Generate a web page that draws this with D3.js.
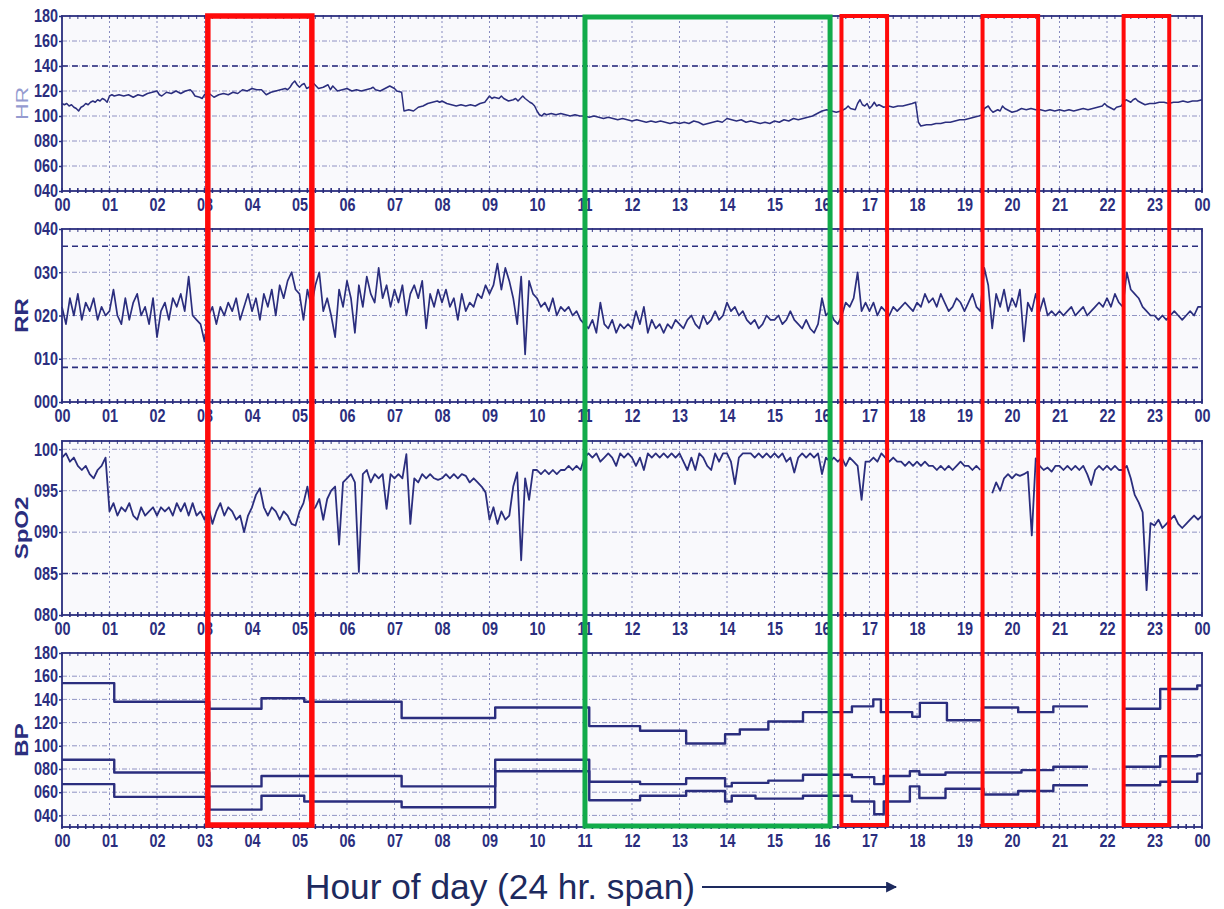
<!DOCTYPE html>
<html>
<head>
<meta charset="utf-8">
<script src="https://cdn.jsdelivr.net/npm/d3@7"></script>
<style>
  body { margin: 0; background: #ffffff; }
  svg { display: block; }
</style>
</head>
<body>
<svg id="chart" width="1224" height="909"></svg>
<script>
// ---- Data -----------------------------------------------------------------

const hourLabels = ["00","01","02","03","04","05","06","07","08","09","10","11",
                    "12","13","14","15","16","17","18","19","20","21","22","23","00"];

const hrTicks   = [40, 60, 80, 100, 120, 140, 160, 180];
const rrTicks   = [0, 10, 20, 30, 40];
const spo2Ticks = [80, 85, 90, 95, 100];
const bpTicks   = [40, 60, 80, 100, 120, 140, 160, 180];

// Heart rate: [hour, beats/min]
const hrPoints = [
  [0,110],[0.05,109],[0.1,110],[0.15,108],[0.2,109],[0.25,107],[0.3,106],[0.35,104],[0.4,107],
  [0.45,108],[0.5,110],[0.55,109],[0.6,111],[0.65,112],[0.7,111],[0.75,113],[0.8,112],[0.85,114],
  [0.9,113],[0.95,111],[1.0,116],[1.05,117],[1.1,116],[1.2,117],[1.3,116],[1.4,117],[1.5,115],
  [1.6,117],[1.7,116],[1.8,118],[1.9,119],[2.0,120],[2.05,117],[2.1,116],[2.2,119],[2.3,118],
  [2.4,120],[2.5,118],[2.6,120],[2.7,121],[2.75,119],[2.8,116],[2.9,115],[2.95,114],[3.0,117],
  [3.05,119],[3.1,118],[3.2,115],[3.3,117],[3.4,118],[3.5,117],[3.6,119],[3.7,118],[3.8,121],
  [3.9,120],[4.0,122],[4.1,121],[4.2,121],[4.25,119],[4.3,117],[4.4,119],[4.5,120],[4.6,121],
  [4.7,122],[4.75,121],[4.8,123],[4.85,126],[4.9,128],[4.95,125],[5.0,123],[5.05,125],[5.1,126],
  [5.15,122],[5.25,124],[5.3,126],[5.4,122],[5.5,123],[5.6,125],[5.65,121],[5.7,124],[5.8,120],
  [5.9,121],[6.0,122],[6.1,120],[6.2,121],[6.3,120],[6.4,121],[6.5,122],[6.55,123],[6.6,121],
  [6.7,120],[6.8,122],[6.9,124],[7.0,122],[7.05,120],[7.15,119],[7.2,104],[7.3,105],[7.4,104],
  [7.5,107],[7.6,108],[7.7,110],[7.8,111],[7.9,112],[7.95,111],[8.0,112],[8.1,110],[8.2,109],
  [8.3,108],[8.4,109],[8.5,108],[8.6,109],[8.7,108],[8.8,110],[8.9,111],[9.0,116],[9.05,114],
  [9.1,115],[9.2,114],[9.25,116],[9.3,114],[9.4,112],[9.5,113],[9.55,114],[9.6,112],[9.7,116],
  [9.75,114],[9.85,111],[9.9,110],[9.95,108],[10.0,104],[10.05,101],[10.1,100],[10.15,102],
  [10.2,101],[10.3,102],[10.4,101],[10.5,102],[10.6,101],[10.7,100],[10.8,101],[10.9,100],
  [11.0,100],[11.1,99],[11.2,100],[11.3,99],[11.4,98],[11.5,99],[11.6,98],[11.7,97],[11.8,98],
  [11.9,97],[12.0,96],[12.1,97],[12.2,96],[12.3,95],[12.4,96],[12.5,95],[12.6,96],[12.7,95],
  [12.8,94],[12.9,95],[13.0,94],[13.1,95],[13.2,94],[13.3,96],[13.4,95],[13.5,93],[13.6,94],
  [13.7,95],[13.8,96],[13.9,95],[14.0,98],[14.1,97],[14.2,96],[14.3,97],[14.4,95],[14.5,96],
  [14.6,95],[14.7,94],[14.8,95],[14.9,94],[15.0,96],[15.1,95],[15.2,97],[15.3,96],[15.4,98],
  [15.5,97],[15.6,98],[15.7,99],[15.8,100],[15.9,102],[16.0,104],[16.1,105],[16.2,104],[16.3,103],
  [16.4,104],[16.5,106],[16.55,108],[16.6,106],[16.7,105],[16.75,110],[16.8,113],[16.85,109],
  [16.9,108],[16.95,110],[17.0,106],[17.05,108],[17.1,111],[17.15,108],[17.2,109],[17.3,107],
  [17.4,108],[17.5,107],[17.6,108],[17.7,108],[17.8,109],[17.9,110],[17.97,111],[18.03,95],
  [18.08,92],[18.2,93],[18.3,93],[18.4,94],[18.5,94],[18.6,95],[18.7,95],[18.8,96],[18.9,97],
  [19.0,97],[19.1,98],[19.2,99],[19.3,100],[19.38,101],[19.42,106],[19.5,108],[19.55,105],
  [19.6,103],[19.7,105],[19.75,104],[19.8,108],[19.85,106],[19.9,105],[20.0,103],[20.1,104],
  [20.2,106],[20.3,105],[20.4,106],[20.5,105],[20.6,105],[20.7,104],[20.8,105],[20.9,104],
  [21.0,105],[21.1,104],[21.2,105],[21.3,104],[21.4,105],[21.5,106],[21.6,105],[21.7,106],
  [21.8,107],[21.9,108],[21.95,110],[22.0,108],[22.1,106],[22.15,105],[22.2,107],[22.3,108],
  [22.35,111],[22.4,113],[22.45,112],[22.5,111],[22.55,113],[22.6,114],[22.65,112],[22.7,111],
  [22.8,109],[22.9,110],[23.0,110],[23.1,111],[23.2,111],[23.3,110],[23.4,111],[23.5,111],
  [23.6,112],[23.7,111],[23.8,112],[23.9,112],[24.0,113]
];

// Respiratory rate, one sample every 5 minutes (12 per hour row) plus midnight
const sampleMinutes = 5;
const rrValues = [
  22,18,24,20,25,19,23,21,24,19,22,20,
  21,26,20,18,24,19,23,25,20,22,18,24,
  15,21,23,19,24,22,25,21,29,20,19,18,
  14,20,22,18,22,20,23,21,24,19,22,25,
  21,24,19,25,22,26,20,27,24,28,30,26,
  25,19,26,22,27,30,21,24,20,15,26,22,
  28,24,16,27,22,29,25,23,31,24,27,22,
  26,23,27,20,25,27,24,28,17,25,22,26,
  23,26,22,24,19,25,21,23,22,25,24,27,
  25,27,32,26,31,28,24,18,29,11,28,25,
  24,22,23,21,24,20,22,21,22,20,21,19,
  18,17,19,16,23,18,17,19,16,18,17,18,
  17,21,18,22,16,19,17,18,16,18,17,19,
  18,17,19,20,18,17,20,18,19,21,19,20,
  23,21,22,20,21,19,18,19,17,18,20,19,
  19,20,18,19,21,19,18,17,19,17,16,18,
  24,20,21,19,18,20,23,22,24,30,21,23,
  21,23,20,22,21,20,22,21,22,23,22,21,
  23,22,25,23,24,22,25,23,21,22,24,23,
  21,23,25,22,21,31,27,17,25,22,26,21,
  24,22,26,14,23,21,25,21,24,20,21,20,
  21,20,21,22,20,21,22,20,21,22,23,22,
  24,22,25,23,22,30,26,25,24,22,21,20,
  20,19,20,19,20,21,20,19,20,21,20,22,
  22
];

// Oxygen saturation, one sample every 5 minutes; null = signal lost
const spo2Values = [
  99,99.5,98.5,99,98,97.5,98,97,96.5,97.5,98,99,
  92.5,93.5,92,93,92.5,93.5,92,91.5,93,92,92.5,93,
  92,93,92.5,93,92,93.5,92.5,93.5,92,93.5,92,92.5,
  91.5,93,91,92.5,93.5,92,93,92.5,91.5,92,90,92,
  93,94.5,95.3,93,92,93,92.5,91.5,92.5,92,91,90.8,
  92.5,93.5,95.5,92.5,93,94,91.5,94,95,95.5,88.5,96,
  96.5,97,96,85.2,97,97.5,96,97,96.5,97,92.8,97,
  96.5,97,96.5,99.4,91,96.5,96,97,96.5,97,96.5,96.3,
  96.5,97,96.5,97,96.5,97,96.8,96,96.5,96,95.5,94.8,
  91.5,93,91,92.5,91.5,92,95.5,97.2,86.6,96.5,93.9,97.5,
  97.5,97,97.5,97,97.5,97,97.5,97.5,98,97.5,98,97.5,
  99,99.5,99,99.5,98.5,99,99.5,99,98,99.5,99,99.5,
  99,98,99,97.5,99.5,99,99.5,99,99.5,99,99.5,99,
  99.5,98.5,97.5,99,97.5,99.5,99,98,97.5,99.5,98.5,99.5,
  99.5,98.5,95.8,99,99.5,99.5,99.5,99,99.5,99,99.5,99,
  99.5,99,99.5,98.5,99,97.2,99,99.5,99,99.5,99,99.5,
  97,99,98.5,99,98.5,99,98,99,98.5,98,93.9,98.5,
  98.5,99,98.5,99.5,99,98.5,99,98.5,98.5,98,98.5,98,
  98.5,98,98.5,98,98,97.5,98,97.5,98,97.5,98,98.5,
  98,98,97.5,98,97.5,null,null,94.7,96,95,96.5,97,
  96.5,97,96.8,97,97.3,89.6,98.9,98,97.5,97.8,97.3,98,
  98,97.5,98,97.5,98,97.5,98,97,95.7,97.5,98,97.5,
  98,97.5,98,97.5,97.5,98,96.5,94.5,93.6,92.4,83,91.1,
  90.8,91.5,90.5,91,91.5,92,91,90.5,91,91.5,92,91.5,
  92
];

// Blood pressure readings held between cuff cycles: [from hour, to hour, mmHg]
const bpSystolic = [
  [0,1.1,154],[1.1,3.1,138],[3.1,4.2,132],[4.2,5.1,141],[5.1,7.15,138],[7.15,9.12,124],
  [9.12,11.1,133],[11.1,12.17,117],[12.17,13.14,113],[13.14,13.96,102],[13.96,14.27,110],
  [14.27,14.87,114],[14.87,15.6,121],[15.6,16.63,129],[16.63,17.08,134],[17.08,17.24,140],
  [17.24,17.9,129],[17.9,18.06,125],[18.06,18.63,137],[18.63,19.37,122],[19.37,20.13,133],
  [20.13,20.87,129],[20.87,21.6,134],[22.38,23.12,132],[23.12,23.9,149],[23.9,24,152]
];
const bpDiastolic = [
  [0,1.1,88],[1.1,3.1,77],[3.1,4.2,65],[4.2,7.15,74],[7.15,9.12,65],[9.12,11.1,88],
  [11.1,12.17,69],[12.17,13.14,67],[13.14,13.96,72],[13.96,14.1,65],[14.1,14.87,68],
  [14.87,15.6,70],[15.6,16.63,75],[16.63,17.1,73],[17.1,17.3,67],[17.3,17.85,74],
  [17.85,18.05,78],[18.05,18.6,75],[18.6,20.2,77],[20.2,20.87,79],[20.87,21.6,82],
  [22.38,23.12,82],[23.12,23.9,91],[23.9,24,92]
];
const bpMean = [
  [0,1.1,67],[1.1,3.1,56],[3.1,4.2,45],[4.2,5.1,57],[5.1,7.15,52],[7.15,9.12,47],
  [9.12,11.1,78],[11.1,12.17,53],[12.17,13.14,57],[13.14,13.96,61],[13.96,14.1,52],
  [14.1,14.6,57],[14.6,15.6,54.5],[15.6,16.63,57],[16.63,17.1,52],[17.1,17.3,41],
  [17.3,17.85,52],[17.85,18.05,65],[18.05,18.6,55],[18.6,19.4,63],[19.4,20.13,58],
  [20.13,20.87,61],[20.87,21.6,66],[22.38,23.12,66],[23.12,23.9,69],[23.9,24,76]
];

// Highlighted time windows: [from hour, to hour]
const alertWindows  = [[3.07,5.26],[16.41,17.37],[19.38,20.55],[22.35,23.31]];
const stableWindows = [[11.01,16.17]];

// ---- Layout -----------------------------------------------------------------

const svg = d3.select("#chart");
const ink = "#2b2e7e";
const gridInk = "#6d72b0";
const fontSans = "Arial, 'Liberation Sans', sans-serif";

const x = d3.scaleLinear().domain([0, 24]).range([62, 1202]);

const panels = [
  { title: "HR",   top: 16,  bottom: 191, domain: [40, 180], ticks: hrTicks,   alarms: [140],   titleColor: "#959bd0", titleWeight: "normal" },
  { title: "RR",   top: 229, bottom: 402, domain: [0, 40],   ticks: rrTicks,   alarms: [36, 8], titleColor: ink, titleWeight: "bold" },
  { title: "SpO2", top: 441, bottom: 615, domain: [80, 101], ticks: spo2Ticks, alarms: [85],    titleColor: ink, titleWeight: "bold" },
  { title: "BP",   top: 653, bottom: 827, domain: [30, 180], ticks: bpTicks,   alarms: [],      titleColor: ink, titleWeight: "bold" }
];
panels.forEach(p => { p.y = d3.scaleLinear().domain(p.domain).range([p.bottom, p.top]); });

const pad3 = v => String(v).padStart(3, "0");

// condensed bold digits for the tick labels
function styleTickText(sel) {
  sel.attr("fill", ink)
    .attr("font-family", fontSans)
    .attr("font-weight", "bold")
    .attr("font-size", 18)
    .attr("transform", "scale(0.8,1)");
}

panels.forEach(p => {
  const g = svg.append("g");
  const y = p.y;

  g.append("rect")
    .attr("x", x(0)).attr("y", p.top)
    .attr("width", x(24) - x(0)).attr("height", p.bottom - p.top)
    .attr("fill", "#f9f9fc");

  // horizontal grid
  g.selectAll(".hgrid").data(p.ticks.filter(t => y(t) > p.top + 2 && y(t) < p.bottom - 2))
    .join("line")
    .attr("x1", x(0)).attr("x2", x(24))
    .attr("y1", d => y(d)).attr("y2", d => y(d))
    .attr("stroke", gridInk).attr("stroke-width", 1)
    .attr("stroke-opacity", 0.75)
    .attr("stroke-dasharray", "5,2,1,2");

  // alarm limit lines
  g.selectAll(".alarm").data(p.alarms)
    .join("line")
    .attr("x1", x(0)).attr("x2", x(24))
    .attr("y1", d => y(d)).attr("y2", d => y(d))
    .attr("stroke", ink).attr("stroke-width", 1.6)
    .attr("stroke-dasharray", "6,4");

  // vertical hourly grid
  g.selectAll(".vgrid").data(d3.range(1, 24))
    .join("line")
    .attr("x1", d => x(d)).attr("x2", d => x(d))
    .attr("y1", p.top).attr("y2", p.bottom)
    .attr("stroke", gridInk).attr("stroke-width", 1)
    .attr("stroke-opacity", 0.8)
    .attr("stroke-dasharray", "2,3");

  // minor ticks every 10 minutes along top and bottom edges
  const minor = d3.range(0, 24 * 6 + 1).map(i => i / 6);
  g.selectAll(".mb").data(minor).join("line")
    .attr("x1", d => x(d)).attr("x2", d => x(d))
    .attr("y1", p.bottom - 3).attr("y2", p.bottom + 2)
    .attr("stroke", ink).attr("stroke-width", 1.6);
  g.selectAll(".mt").data(minor).join("line")
    .attr("x1", d => x(d)).attr("x2", d => x(d))
    .attr("y1", p.top - 1).attr("y2", p.top + 3)
    .attr("stroke", ink).attr("stroke-width", 1.2).attr("stroke-opacity", 0.8);

  // frame
  g.append("rect")
    .attr("x", x(0)).attr("y", p.top)
    .attr("width", x(24) - x(0)).attr("height", p.bottom - p.top)
    .attr("fill", "none").attr("stroke", ink).attr("stroke-width", 1.8);

  // y axis labels
  const ya = g.append("g")
    .attr("transform", `translate(${x(0)},0)`)
    .call(d3.axisLeft(y).tickValues(p.ticks).tickFormat(pad3).tickSize(3).tickPadding(2));
  ya.select(".domain").remove();
  ya.selectAll(".tick line").attr("stroke", ink).attr("stroke-width", 1.5);
  ya.selectAll("text").call(styleTickText);

  // x axis labels
  const xa = g.append("g")
    .attr("transform", `translate(0,${p.bottom})`)
    .call(d3.axisBottom(x).tickValues(d3.range(25)).tickFormat(i => hourLabels[i]).tickSize(0).tickPadding(7));
  xa.select(".domain").remove();
  xa.selectAll("text").call(styleTickText);

  // panel title, reading bottom to top
  g.append("text")
    .attr("transform", `translate(28,${(p.top + p.bottom) / 2}) rotate(-90) scale(1,0.75)`)
    .attr("text-anchor", "middle")
    .attr("fill", p.titleColor)
    .attr("font-family", fontSans)
    .attr("font-weight", p.titleWeight)
    .attr("font-size", p.titleWeight === "bold" ? 24 : 23)
    .text(p.title);
});

// ---- Traces -----------------------------------------------------------------

const [hrP, rrP, spP, bpP] = panels;

svg.append("path")
  .datum(hrPoints)
  .attr("fill", "none").attr("stroke", ink).attr("stroke-width", 1.5)
  .attr("stroke-linejoin", "round")
  .attr("d", d3.line().x(d => x(d[0])).y(d => hrP.y(d[1])));

const sampleHour = i => i * sampleMinutes / 60;

svg.append("path")
  .datum(rrValues)
  .attr("fill", "none").attr("stroke", ink).attr("stroke-width", 1.7)
  .attr("stroke-linejoin", "round")
  .attr("d", d3.line().x((d, i) => x(sampleHour(i))).y(d => rrP.y(d)));

svg.append("path")
  .datum(spo2Values)
  .attr("fill", "none").attr("stroke", ink).attr("stroke-width", 1.8)
  .attr("stroke-linejoin", "round")
  .attr("d", d3.line().defined(d => d != null).x((d, i) => x(sampleHour(i))).y(d => spP.y(d)));

// Step traces: consecutive runs join with a vertical riser, gaps break the line
function stepPoints(runs) {
  const pts = [];
  runs.forEach((r, i) => {
    const prev = runs[i - 1];
    if (prev && Math.abs(prev[1] - r[0]) > 1e-6) pts.push(null);
    pts.push([r[0], r[2]]);
    pts.push([r[1], r[2]]);
  });
  return pts;
}
const bpLine = d3.line()
  .defined(d => d != null)
  .x(d => x(d[0])).y(d => bpP.y(d[1]));

[bpSystolic, bpDiastolic, bpMean].forEach(runs => {
  svg.append("path")
    .datum(stepPoints(runs))
    .attr("fill", "none").attr("stroke", ink).attr("stroke-width", 2.4)
    .attr("stroke-linejoin", "round")
    .attr("d", bpLine);
});

// ---- Highlight windows ---------------------------------------------------------

svg.selectAll(".alertWin").data(alertWindows).join("rect")
  .attr("x", d => x(d[0])).attr("y", 16)
  .attr("width", d => x(d[1]) - x(d[0])).attr("height", 825 - 16)
  .attr("fill", "none").attr("stroke", "#ff0a0a")
  .attr("stroke-width", (d, i) => i === 0 ? 5.5 : 4);

svg.selectAll(".stableWin").data(stableWindows).join("rect")
  .attr("x", d => x(d[0])).attr("y", 17)
  .attr("width", d => x(d[1]) - x(d[0])).attr("height", 826 - 17)
  .attr("fill", "none").attr("stroke", "#12ab4a").attr("stroke-width", 5);

// ---- Time axis caption ---------------------------------------------------------

svg.append("text")
  .attr("x", 305).attr("y", 899)
  .attr("fill", "#1d2a5e")
  .attr("font-family", fontSans)
  .attr("font-size", 35)
  .attr("textLength", 390)
  .attr("lengthAdjust", "spacingAndGlyphs")
  .text("Hour of day (24 hr. span)");

const defs = svg.append("defs");
defs.append("marker")
  .attr("id", "arrowHead")
  .attr("viewBox", "0 0 10 10").attr("refX", 9).attr("refY", 5)
  .attr("markerWidth", 5).attr("markerHeight", 5)
  .attr("orient", "auto")
  .append("path").attr("d", "M0,0 L10,5 L0,10 Z").attr("fill", "#1d2a5e");

svg.append("line")
  .attr("x1", 702).attr("x2", 896)
  .attr("y1", 887).attr("y2", 887)
  .attr("stroke", "#1d2a5e").attr("stroke-width", 2.2)
  .attr("marker-end", "url(#arrowHead)");
</script>
</body>
</html>
